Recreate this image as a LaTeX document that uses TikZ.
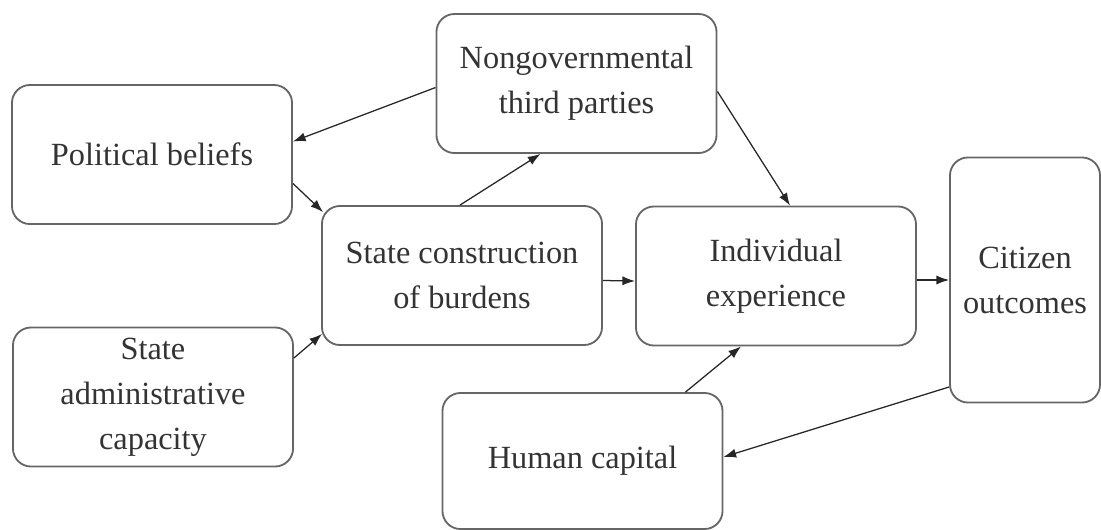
\documentclass[tikz,border=0pt]{standalone}
\usepackage{fontspec}
\setmainfont{Liberation Serif}
\usetikzlibrary{arrows.meta,calc}
\definecolor{bxline}{HTML}{666666}
\definecolor{bxtext}{HTML}{333333}
\begin{document}
\begin{tikzpicture}[x=0.025cm,y=-0.025cm,
  box/.style={draw=bxline,line width=1.3pt,rounded corners=0.45cm,align=center,text=bxtext,
    font=\fontsize{23}{32}\selectfont,minimum width=7cm,minimum height=3.475cm,inner sep=0pt},
  arr/.style={draw=black!85,line width=0.9pt,-{Latex[length=9pt,width=6.5pt]}}]
\useasboundingbox (0,0) rectangle (1101,529);
\node[box] (pol) at (152,154.5) {Political beliefs};
\node[box] (nongov) at (576.5,83.5) {Nongovernmental\\third parties};
\node[box] (state) at (462,275.5) {State construction\\of burdens};
\node[box] (indiv) at (776,276) {Individual\\experience};
\node[box,minimum width=3.75cm,minimum height=6.125cm] (citizen) at (1025,280) {Citizen\\outcomes};
\node[box] (admin) at (153,397) {State\\administrative\\capacity};
\node[box,minimum height=3.4cm] (human) at (582.5,461) {Human capital};
\draw[arr] ($(nongov.west)+(0,4)$) -- ($(pol.east)+(0,-13)$);
\draw[arr] ($(pol.east)+(0,29)$) -- ($(state.north west)+(2,7)$);
\draw[arr] ($(admin.east)+(0,-39)$) -- ($(state.south west)+(1,-12)$);
\draw[arr] ($(state.north)+(-2,0)$) -- ($(nongov.south)+(-36,0)$);
\draw[arr] ($(nongov.east)+(0,8)$) -- ($(indiv.north)+(14,0)$);
\draw[arr] ($(state.east)+(0,5)$) -- ($(indiv.west)+(0,5)$);
\draw[arr] ($(indiv.east)+(0,4)$) -- ($(citizen.west)+(0,0)$);
\draw[arr] ($(citizen.west)+(0,107)$) -- ($(human.east)+(0,-4)$);
\draw[arr] ($(human.north)+(103,0)$) -- ($(indiv.south)+(-35,0)$);
\end{tikzpicture}
\end{document}
